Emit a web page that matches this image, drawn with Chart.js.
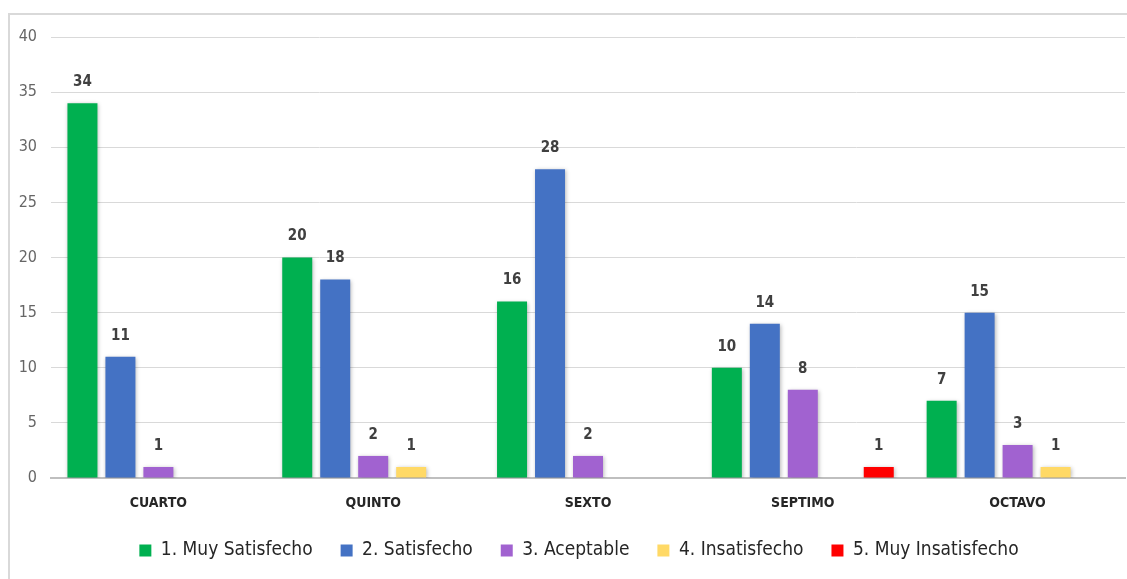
<!DOCTYPE html>
<html>
<head>
<meta charset="utf-8">
<script src="https://cdn.jsdelivr.net/npm/chart.js@4.4.1/dist/chart.umd.min.js"></script>
<style>
  html, body { margin: 0; padding: 0; background: #ffffff; }
  #wrap { position: relative; width: 1127px; height: 579px; overflow: hidden; }
  #frame { position: absolute; left: 8px; top: 13px; width: 1140px; height: 600px;
           border: 2px solid #d9d9d9; box-sizing: border-box; }
  #c { position: absolute; left: 0; top: 0; }
</style>
</head>
<body>
<div id="wrap">
  <div id="frame"></div>
  <canvas id="c" width="1127" height="579"></canvas>
</div>
<script>
// Grades surveyed
const categories = ['CUARTO', 'QUINTO', 'SEXTO', 'SEPTIMO', 'OCTAVO'];

// Number of responses per satisfaction level
const muySatisfecho   = [34, 20, 16, 10, 7];
const satisfecho      = [11, 18, 28, 14, 15];
const aceptable       = [1, 2, 2, 8, 3];
const insatisfecho    = [0, 1, 0, 0, 1];
const muyInsatisfecho = [0, 0, 0, 1, 0];

const seriesNames = ['1. Muy Satisfecho', '2. Satisfecho', '3. Aceptable', '4. Insatisfecho', '5. Muy Insatisfecho'];
const seriesColors = ['#00B050', '#4472C4', '#A162D0', '#FFD966', '#FF0000'];
const seriesValues = [muySatisfecho, satisfecho, aceptable, insatisfecho, muyInsatisfecho];

const yTicks = [0, 5, 10, 15, 20, 25, 30, 35, 40];

const FONT = '"Liberation Sans Narrow", "DejaVu Sans Condensed", "Liberation Sans", sans-serif';

// Soft drop shadow under the bars
const barShadow = {
  id: 'barShadow',
  beforeDatasetsDraw(chart) {
    const ctx = chart.ctx;
    ctx.save();
    ctx.shadowColor = 'rgba(0,0,0,0.28)';
    ctx.shadowBlur = 4;
    ctx.shadowOffsetX = 1;
    ctx.shadowOffsetY = 1;
  },
  afterDatasetsDraw(chart) {
    chart.ctx.restore();
  }
};

// Value labels above each non-zero bar
const valueLabels = {
  id: 'valueLabels',
  afterDatasetsDraw(chart) {
    const ctx = chart.ctx;
    ctx.save();
    ctx.shadowColor = 'transparent';
    ctx.font = 'bold 15px ' + FONT;
    ctx.fillStyle = '#404040';
    ctx.textAlign = 'center';
    ctx.textBaseline = 'middle';
    chart.data.datasets.forEach((ds, i) => {
      const meta = chart.getDatasetMeta(i);
      meta.data.forEach((bar, j) => {
        const v = ds.data[j];
        if (!v) return;
        ctx.fillText(String(v), bar.x, bar.y - 21);
      });
    });
    ctx.restore();
  }
};

// Nudge the legend so it sits centred under the plot area
const legendShift = {
  id: 'legendShift',
  afterLayout(chart) {
    const lg = chart.legend;
    if (!lg) return;
    lg.left += 8;
    lg.right += 8;
  }
};

new Chart(document.getElementById('c'), {
  type: 'bar',
  data: {
    labels: categories,
    datasets: seriesValues.map((vals, i) => ({
      label: seriesNames[i],
      data: vals,
      backgroundColor: seriesColors[i],
      borderWidth: 0,
      categoryPercentage: 0.884,
      barPercentage: 0.79
    }))
  },
  options: {
    responsive: false,
    animation: false,
    layout: { padding: { left: 17, right: 2, top: 37, bottom: 9 } },
    plugins: {
      tooltip: { enabled: false },
      legend: {
        position: 'bottom',
        labels: {
          boxWidth: 12,
          boxHeight: 12,
          padding: 28,
          color: '#262626',
          font: { family: FONT, size: 19 }
        }
      }
    },
    scales: {
      x: {
        grid: { display: false, drawTicks: false },
        border: { display: true, color: '#bfbfbf', width: 2 },
        afterFit(scale) { scale.height = 35; },
        ticks: {
          color: '#262626',
          padding: 17,
          font: { family: FONT, size: 14, weight: 'bold' }
        }
      },
      y: {
        min: 0,
        max: 40,
        afterBuildTicks(scale) { scale.ticks = yTicks.map(v => ({ value: v })); },
        afterFit(scale) { scale.width = 34; },
        grid: { color: '#d9d9d9', lineWidth: 1, drawTicks: false },
        border: { display: false },
        ticks: {
          color: '#666666',
          padding: 14,
          font: { family: FONT, size: 16 }
        }
      }
    }
  },
  plugins: [barShadow, valueLabels, legendShift]
});
</script>
</body>
</html>
